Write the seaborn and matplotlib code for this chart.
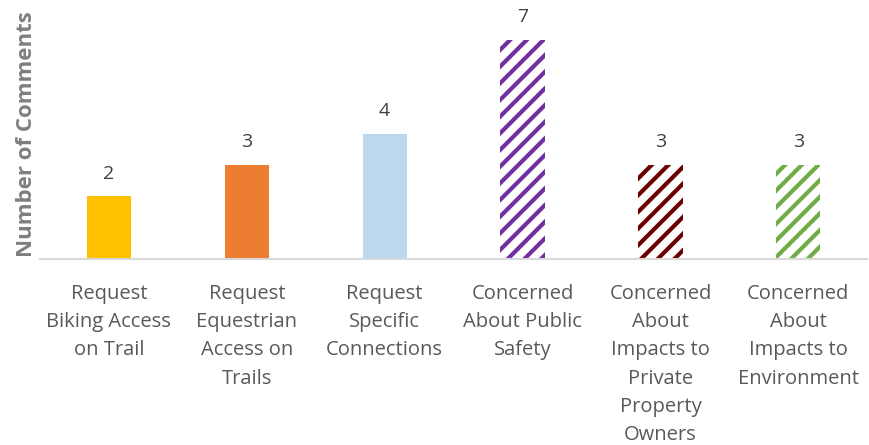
import matplotlib
matplotlib.use("Agg")
import seaborn as sns
import pandas as pd
from matplotlib import pyplot as plt

categories = [
    "Request\nBiking Access\non Trail",
    "Request\nEquestrian\nAccess on\nTrails",
    "Request\nSpecific\nConnections",
    "Concerned\nAbout Public\nSafety",
    "Concerned\nAbout\nImpacts to\nPrivate\nProperty\nOwners",
    "Concerned\nAbout\nImpacts to\nEnvironment",
]
comments = [2, 3, 4, 7, 3, 3]
colors = ["#FFC000", "#ED7D31", "#BDD7EE", "#7030A0", "#6B0000", "#70AD47"]
hatched = [False, False, False, True, True, True]

sns.set_style("white")
plt.rcParams["font.family"] = ["Open Sans", "DejaVu Sans"]
plt.rcParams["hatch.linewidth"] = 3.0

df = pd.DataFrame({"category": categories, "comments": comments})

fig = plt.figure(figsize=(8.69, 4.45), dpi=100)
ax = fig.add_axes([0.046, 0.418, 0.952, 0.562])

sns.barplot(data=df, x="category", y="comments", hue="category",
            palette=colors, legend=False, width=0.32, ax=ax, saturation=1)

for patch, col, h in zip(ax.patches, colors, hatched):
    patch.set_linewidth(0)
    if h:
        patch.set_facecolor("white")
        patch.set_edgecolor(col)
        patch.set_hatch("//")

for cont in ax.containers:
    ax.bar_label(cont, padding=10, fontsize=14, color="#404040")

ax.set_ylim(0, 8)
ax.set_yticks([])
ax.set_xlabel("")
ax.set_ylabel("Number of Comments", fontsize=16, fontweight="bold",
              color="#7F7F7F", labelpad=2)
ax.tick_params(axis="x", length=0, pad=18, labelsize=14.5, labelcolor="#595959")
for lbl in ax.get_xticklabels():
    lbl.set_linespacing(1.55)
    lbl.set_verticalalignment("top")

for s in ["top", "right", "left"]:
    ax.spines[s].set_visible(False)
ax.spines["bottom"].set_color("#D9D9D9")
ax.spines["bottom"].set_linewidth(1.5)

fig.savefig("out.png", dpi=100)
